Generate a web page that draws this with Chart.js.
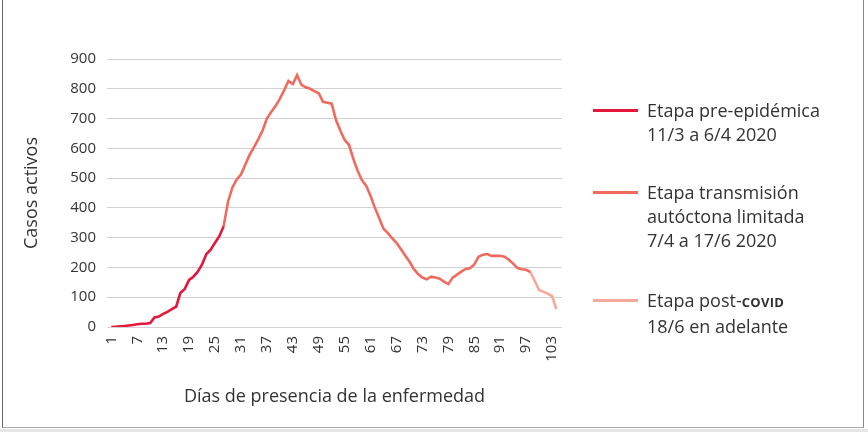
<!DOCTYPE html>
<html lang="es">
<head>
<meta charset="UTF-8">
<title>Casos activos</title>
<script src="https://cdn.jsdelivr.net/npm/chart.js"></script>
<style>
    body {
        margin: 0;
        background: #ffffff;
        font-family: 'Open Sans', sans-serif;
    }
    .box {
        position: relative;
        width: 868px;
        height: 432px;
        overflow: hidden;
    }
    .frame {
        position: absolute;
        left: 2px;
        top: -2px;
        width: 860px;
        height: 429px;
        border-left: 1px solid #666;
        border-right: 1px solid #888;
        border-bottom: 1px solid #aaa;
    }
    .shade {
        position: absolute;
        left: 0;
        top: 429px;
        width: 868px;
        height: 3px;
        background: #e6e6e6;
    }
    .legend {
        position: absolute;
        left: 593px;
        top: 0;
        color: #333;
        font-size: 18px;
        line-height: 24px;
    }
    .item {
        position: absolute;
        left: 0;
        white-space: nowrap;
    }
    .item .swatch {
        position: absolute;
        left: 0;
        top: 11px;
        width: 45px;
        height: 3px;
    }
    .item .txt {
        position: absolute;
        left: 54px;
        top: 0;
    }
    .sc {
        font-size: 13px;
        font-weight: 700;
        letter-spacing: 0.3px;
    }
</style>
</head>
<body>
<div class="box">
    <canvas id="chart" width="868" height="432"></canvas>
    <div class="frame"></div>
    <div class="shade"></div>
    <div class="legend">
        <div class="item" style="top:98px">
            <div class="swatch" style="background:#e5173a"></div>
            <div class="txt">Etapa pre-epidémica<br>11/3 a 6/4 2020</div>
        </div>
        <div class="item" style="top:180px">
            <div class="swatch" style="background:#f06a5d"></div>
            <div class="txt">Etapa transmisión<br>autóctona limitada<br>7/4 a 17/6 2020</div>
        </div>
        <div class="item" style="top:288px">
            <div class="swatch" style="background:#f7a999"></div>
            <div class="txt">Etapa post-<span class="sc">COVID</span><br>18/6 en adelante</div>
        </div>
    </div>
</div>

<script>
// days of presence of the disease
const dias = [
    1, 2, 3, 4, 5, 6, 7, 8, 9, 10, 11, 12, 13, 14, 15, 16, 17, 18, 19, 20,
    21, 22, 23, 24, 25, 26, 27, 28, 29, 30, 31, 32, 33, 34, 35, 36, 37, 38, 39, 40,
    41, 42, 43, 44, 45, 46, 47, 48, 49, 50, 51, 52, 53, 54, 55, 56, 57, 58, 59, 60,
    61, 62, 63, 64, 65, 66, 67, 68, 69, 70, 71, 72, 73, 74, 75, 76, 77, 78, 79, 80,
    81, 82, 83, 84, 85, 86, 87, 88, 89, 90, 91, 92, 93, 94, 95, 96, 97, 98, 99, 100,
    101, 102, 103, 104
];

// active cases, one per day
const casosActivos = [
    0, 1, 2, 3, 5, 7, 9, 11, 11, 13, 32, 35, 44, 51, 60, 68, 115, 128, 158, 169,
    186, 210, 245, 260, 283, 305, 338, 420, 468, 495, 512, 545, 578, 603, 630, 660, 700, 722, 742, 766,
    795, 826, 816, 846, 813, 805, 800, 792, 785, 756, 753, 750, 695, 660, 628, 612, 565, 525, 493, 474,
    440, 400, 365, 330, 315, 298, 283, 262, 240, 220, 195, 178, 166, 160, 169, 166, 162, 152, 144, 166,
    176, 186, 195, 197, 210, 236, 243, 245, 239, 239, 239, 236, 226, 213, 198, 194, 192, 184, 155, 124,
    118, 112, 104, 60
];

// stage boundaries (day where each stage ends / next begins)
const finPreEpidemica = 27;
const finTransmision = 98;

const xTicks = [1, 7, 13, 19, 25, 31, 37, 43, 49, 55, 61, 67, 73, 79, 85, 91, 97, 103];
const yTicks = [0, 100, 200, 300, 400, 500, 600, 700, 800, 900];

function tramo(desde, hasta) {
    const pts = [];
    for (let i = desde - 1; i < hasta; i++) {
        pts.push({ x: dias[i], y: casosActivos[i] });
    }
    return pts;
}

const ctx = document.getElementById("chart").getContext("2d");
const fontFam = "'Open Sans', sans-serif";

new Chart(ctx, {
    type: "line",
    data: {
        datasets: [
            { label: "Etapa pre-epidémica", data: tramo(1, finPreEpidemica), borderColor: "#e5173a" },
            { label: "Etapa transmisión autóctona limitada", data: tramo(finPreEpidemica, finTransmision), borderColor: "#f06a5d" },
            { label: "Etapa post-COVID", data: tramo(finTransmision, dias.length), borderColor: "#f7a999" }
        ]
    },
    options: {
        responsive: false,
        animation: false,
        elements: {
            line: { borderWidth: 2.6, tension: 0, borderCapStyle: "butt", borderJoinStyle: "miter" },
            point: { radius: 0 }
        },
        layout: { padding: { top: 59, right: 306, left: 0, bottom: 0 } },
        plugins: {
            legend: { display: false },
            tooltip: { enabled: false }
        },
        scales: {
            x: {
                type: "linear",
                min: 0,
                max: 105.3,
                afterFit: (scale) => { scale.height = 105; },
                afterBuildTicks: (scale) => { scale.ticks = xTicks.map(v => ({ value: v })); },
                grid: { display: false, drawTicks: false },
                border: { display: false },
                ticks: {
                    autoSkip: false,
                    minRotation: 90,
                    maxRotation: 90,
                    padding: 9,
                    color: "#333",
                    font: { family: fontFam, size: 15 }
                },
                title: {
                    display: true,
                    text: "Días de presencia de la enfermedad",
                    color: "#333",
                    font: { family: fontFam, size: 18 },
                    padding: { bottom: 24 }
                }
            },
            y: {
                min: 0,
                max: 900,
                afterFit: (scale) => { scale.width = 107; },
                afterBuildTicks: (scale) => { scale.ticks = yTicks.map(v => ({ value: v })); },
                grid: { color: "#d2d2d2", lineWidth: 1, drawTicks: false },
                border: { display: false },
                ticks: {
                    padding: 11,
                    color: "#333",
                    font: { family: fontFam, size: 15 }
                },
                title: {
                    display: true,
                    text: "Casos activos",
                    color: "#333",
                    font: { family: fontFam, size: 18 },
                    padding: { top: 21 }
                }
            }
        }
    }
});
</script>
</body>
</html>
